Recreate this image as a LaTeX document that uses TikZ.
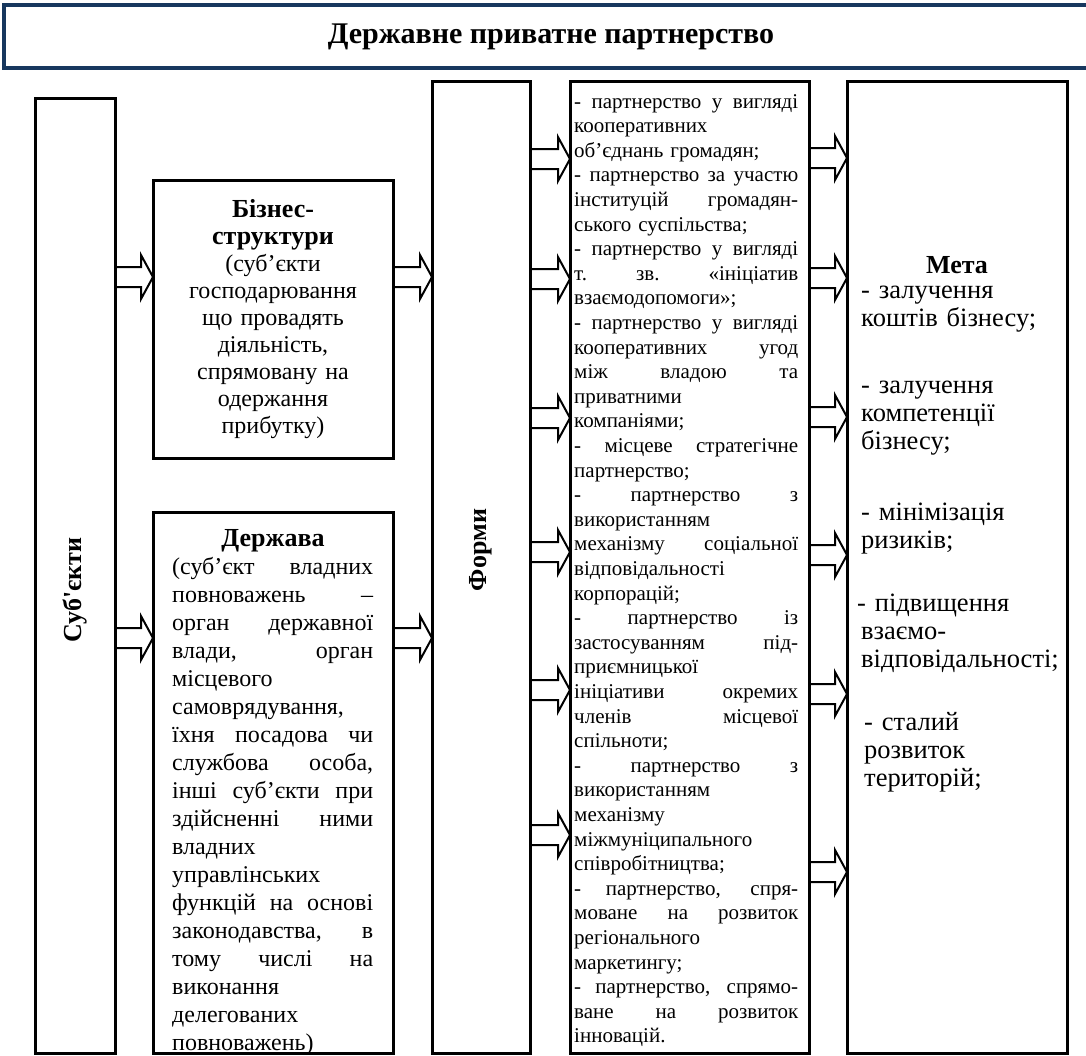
\documentclass[tikz,border=0pt]{standalone}
\usepackage{fontspec}
\setmainfont{Liberation Serif}
\usetikzlibrary{calc}

\definecolor{titleblue}{RGB}{23,55,94}

\newcommand\jl[1]{\makebox[\hsize][s]{\spaceskip=0pt\xspaceskip=0pt #1}\\}
\newcommand\sapos{{\XeTeXglyph\XeTeXcharglyph"0027\relax}}

\tikzset{
  colbox/.style={draw, line width=3pt, anchor=north west, inner sep=0pt, outer sep=0pt},
  txtblock/.style={anchor=base west, inner sep=0pt, align=left},
  headtxt/.style={font=\bfseries\fontsize{26}{30}\selectfont, inner sep=0pt},
  blockarr/.style={line width=2pt, line join=miter,
    to path={let \p1=(\tikztostart), \p2=(\tikztotarget) in
      (\x1,\y1+10pt) -- (\x2-12pt,\y1+10pt) -- (\x2-12pt,\y1+22pt) -- (\x2,\y1)
      -- (\x2-12pt,\y1-22pt) -- (\x2-12pt,\y1-10pt) -- (\x1,\y1-10pt)}}
}

\begin{document}
\begin{tikzpicture}[x=1pt,y=-1pt]

\useasboundingbox (0,0) rectangle (1086,1055);

% title bar
\node[draw=titleblue, line width=4pt, anchor=north west, outer sep=0pt,
  minimum width=1100pt, minimum height=63pt] (title) at (4,5) {};
\node[font=\bfseries\fontsize{30}{32}\selectfont] (titletxt) at (551,37)
  {Державне приватне партнерство};

% columns
\node[colbox, minimum width=80pt, minimum height=955pt] (subj) at (35,98) {};
\node[headtxt, rotate=90] (subjlbl) at (75,590) {Суб\sapos єкти};

\node[colbox, minimum width=240pt, minimum height=278pt, text width=225pt,
  align=center, font=\fontsize{24}{27}\selectfont] (biz) at (153,180)
  {{\bfseries\fontsize{26}{27}\selectfont Бізнес-\\структури}\\(суб’єкти\\
   господарювання\\що провадять\\діяльність,\\спрямовану на\\одержання\\прибутку)};

\node[colbox, minimum width=240pt, minimum height=541pt] (state) at (153,512) {};
\node[headtxt] (statehead) at (273,541) {Держава};
\node[txtblock, text width=201pt, font=\fontsize{24}{28}\selectfont] (statetxt) at (172,574)
  {\jl{(суб’єкт владних}\jl{повноважень –}\jl{орган державної}\jl{влади, орган}
   місцевого\\самоврядування,\\\jl{їхня посадова чи}\jl{службова особа,}
   \jl{інші суб’єкти при}\jl{здійсненні ними}владних\\управлінських\\
   \jl{функцій на основі}\jl{законодавства, в}\jl{тому числі на}виконання\\
   делегованих\\повноважень)};

\node[colbox, minimum width=98pt, minimum height=972pt] (forms) at (432,81) {};
\node[headtxt, rotate=90] (formslbl) at (481,550) {Форми};

\node[colbox, minimum width=239pt, minimum height=972pt] (list) at (570,81) {};
\node[txtblock, text width=224pt, font=\fontsize{21}{24.6}\selectfont] (listtxt) at (574,108)
  {\jl{- партнерство у вигляді}кооперативних\\об’єднань громадян;\\
   \jl{- партнерство за участю}\jl{інституцій громадян-}ського суспільства;\\
   \jl{- партнерство у вигляді}\jl{т. зв. «ініціатив}взаємодопомоги»;\\
   \jl{- партнерство у вигляді}\jl{кооперативних угод}\jl{між владою та}
   приватними\\компаніями;\\
   \jl{- місцеве стратегічне}партнерство;\\
   \jl{- партнерство з}використанням\\\jl{механізму соціальної}відповідальності\\
   корпорацій;\\
   \jl{- партнерство із}\jl{застосуванням під-}приємницької\\
   \jl{ініціативи окремих}\jl{членів місцевої}спільноти;\\
   \jl{- партнерство з}використанням\\механізму\\міжмуніципального\\
   співробітництва;\\
   \jl{- партнерство, спря-}\jl{моване на розвиток}регіонального\\маркетингу;\\
   \jl{- партнерство, спрямо-}\jl{ване на розвиток}інновацій.};

\node[colbox, minimum width=220pt, minimum height=972pt] (goal) at (847,81) {};
\node[headtxt] (goalhead) at (957,265) {Мета};
\node[txtblock, text width=215pt, font=\fontsize{26.5}{28}\selectfont] (goaltxt) at (861,298)
  {- залучення\\коштів бізнесу;\\[39pt]
   - залучення\\компетенції\\бізнесу;\\[43pt]
   - мінімізація\\ризиків;\\[35pt]
   \hspace*{-4pt}- підвищення\\взаємо-\\відповідальності;\\[35pt]
   \hspace*{3pt}- сталий\\\hspace*{3pt}розвиток\\\hspace*{3pt}територій;};

% block arrows
\draw[blockarr] (subj.east |- 0,277) to (biz.west |- 0,277);
\draw[blockarr] (subj.east |- 0,638) to (state.west |- 0,638);
\draw[blockarr] (biz.east |- 0,277) to (forms.west |- 0,277);
\draw[blockarr] (state.east |- 0,638) to (forms.west |- 0,638);
\foreach \yy in {159,279,418,552,690,835}
  \draw[blockarr] (forms.east |- 0,\yy) to (list.west |- 0,\yy);
\foreach \yy in {158,278,417,555,694,872}
  \draw[blockarr] (list.east |- 0,\yy) to (goal.west |- 0,\yy);

\end{tikzpicture}
\end{document}
